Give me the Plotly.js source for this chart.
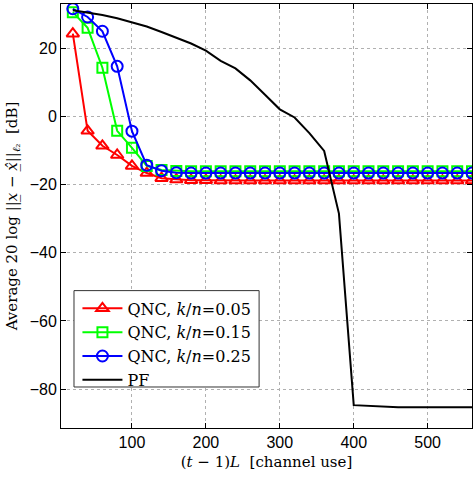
<!DOCTYPE html>
<html>
<head>
<meta charset="utf-8">
<script src="https://cdn.plot.ly/plotly-3.0.1.min.js"></script>
<style>html,body{margin:0;padding:0;background:#fff;}#chart{width:475px;height:479px;}</style>
</head>
<body>
<div id="chart"></div>
<script>
const channelUse = [20,40,60,80,100,120,140,160,180,200,220,240,260,280,300,320,340,360,380,400,420,440,460,480,500,520,540,560];
const qnc005 = [24.3,-4.2,-8.6,-11.3,-14.5,-16.6,-18.1,-18.5,-18.7,-18.7,-18.8,-18.8,-18.8,-18.8,-18.8,-18.8,-18.8,-18.8,-18.8,-18.8,-18.8,-18.8,-18.8,-18.8,-18.8,-18.8,-18.8,-18.8];
const qnc015 = [30.6,26.0,14.3,-4.2,-9.2,-14.5,-15.7,-16.0,-16.1,-16.1,-16.1,-16.1,-16.1,-16.1,-16.1,-16.1,-16.1,-16.1,-16.1,-16.1,-16.1,-16.1,-16.1,-16.1,-16.1,-16.1,-16.1,-16.1];
const qnc025 = [31.6,29.2,25.0,14.7,-4.3,-14.3,-15.9,-16.5,-16.6,-16.6,-16.6,-16.6,-16.6,-16.6,-16.6,-16.6,-16.6,-16.6,-16.6,-16.6,-16.6,-16.6,-16.6,-16.6,-16.6,-16.6,-16.6,-16.6];
const pf = [31.2,30.6,29.8,28.8,27.7,26.4,24.8,23.2,21.4,19.3,16.3,14.1,10.6,6.4,2.1,-0.3,-4.9,-10.1,-28.5,-84.7,-84.9,-85.3,-85.3,-85.3,-85.3,-85.3,-85.3,-85.3];
const seriesNames = ['QNC, <i>k</i>/<i>n</i>=0.05','QNC, <i>k</i>/<i>n</i>=0.15','QNC, <i>k</i>/<i>n</i>=0.25','PF'];
const xTicks = [100,200,300,400,500];
const yTicks = [-80,-60,-40,-20,0,20];

const serif = 'DejaVu Serif, serif';

const traces = [
  {x: channelUse, y: qnc005, name: seriesNames[0], mode: 'lines+markers',
   line: {color: '#ff0000', width: 2},
   marker: {symbol: 'triangle-up-open', size: 11, color: '#ff0000', line: {width: 2, color: '#ff0000'}}},
  {x: channelUse, y: qnc015, name: seriesNames[1], mode: 'lines+markers',
   line: {color: '#00ff00', width: 2},
   marker: {symbol: 'square-open', size: 10, color: '#00ff00', line: {width: 2, color: '#00ff00'}}},
  {x: channelUse, y: qnc025, name: seriesNames[2], mode: 'lines+markers',
   line: {color: '#0000ff', width: 2},
   marker: {symbol: 'circle-open', size: 11, color: '#0000ff', line: {width: 2, color: '#0000ff'}}},
  {x: channelUse, y: pf, name: seriesNames[3], mode: 'lines',
   line: {color: '#000000', width: 2}}
];

const axisCommon = {
  showline: true, linecolor: '#000', linewidth: 1, mirror: 'ticks',
  ticks: 'inside', ticklen: 5, tickcolor: '#000', tickwidth: 1,
  showgrid: true, gridcolor: '#b0b0b0', griddash: 'dot', gridwidth: 1,
  zeroline: false,
  tickfont: {family: 'Liberation Sans, Arial, sans-serif', size: 16, color: '#000'}
};

const layout = {
  width: 475, height: 479,
  margin: {l: 61, r: 3, t: 4, b: 51},
  paper_bgcolor: '#fff', plot_bgcolor: '#fff',
  showlegend: true,
  xaxis: Object.assign({}, axisCommon, {
    range: [4, 560], tickvals: xTicks,
    title: {text: '(<i>t</i> − 1)<i>L</i>  [channel use]', standoff: 6,
            font: {family: serif, size: 15, color: '#000'}}
  }),
  yaxis: Object.assign({}, axisCommon, {
    range: [-91.4, 33], tickvals: yTicks,
    title: {text: 'Average 20 log ||<i>x̲</i> − <i>x̲̂</i>||<sub><i>ℓ</i>₂</sub>  [dB]', standoff: 8,
            font: {family: serif, size: 15, color: '#000'}}
  }),
  shapes: [
    {type: 'rect', xref: 'paper', yref: 'paper', layer: 'above',
     x0: 0.0316, x1: 0.482, y0: 0.0967, y1: 0.324,
     fillcolor: '#ffffff', line: {color: '#333', width: 1}}
  ],
  legend: {
    x: 0.040, y: 0.322, xanchor: 'left', yanchor: 'top',
    bgcolor: 'rgba(0,0,0,0)', borderwidth: 0,
    itemwidth: 40,
    font: {family: serif, size: 16, color: '#000'},
    tracegroupgap: 0
  }
};

Plotly.newPlot('chart', traces, layout, {staticPlot: true, displayModeBar: false});
</script>
</body>
</html>
